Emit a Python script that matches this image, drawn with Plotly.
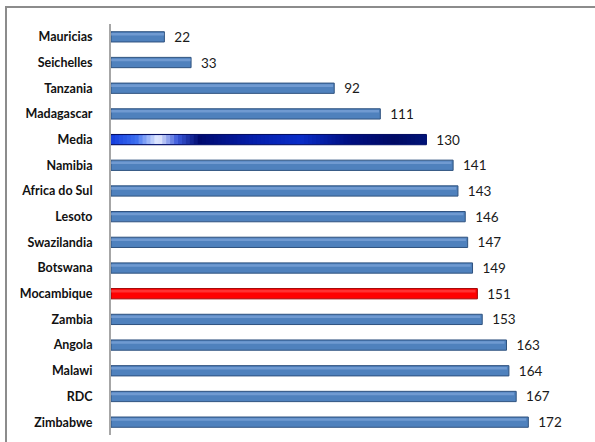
import plotly.graph_objects as go

categories = ["Mauricias", "Seichelles", "Tanzania", "Madagascar", "Media", "Namibia",
              "Africa do Sul", "Lesoto", "Swazilandia", "Botswana", "Mocambique",
              "Zambia", "Angola", "Malawi", "RDC", "Zimbabwe"]
values = [22, 33, 92, 111, 130, 141, 143, 146, 147, 149, 151, 153, 163, 164, 167, 172]
highlight_avg = "Media"
highlight_country = "Mocambique"

W, H = 595, 442
L, R, T, B = 111, 23, 24, 7
FONT = "Lato, Roboto, sans-serif"

colors, lines = [], []
for c in categories:
    if c == highlight_avg:
        colors.append("#0a2bb8"); lines.append("#000a5e")
    elif c == highlight_country:
        colors.append("#ff0000"); lines.append("#a00000")
    else:
        colors.append("#4f81bd"); lines.append("#2f527f")

fig = go.Figure()
fig.add_trace(go.Bar(
    y=categories, x=values, orientation="h", width=0.4,
    marker=dict(color=colors, line=dict(color=lines, width=1)),
    text=["\u00a0\u00a0" + str(v) for v in values], textposition="outside", constraintext="none",
    textfont=dict(family=FONT, size=13.5, color="#1a1a1a"),
    cliponaxis=False, hoverinfo="skip"))

# shine on bars (cylinder effect)
shine = []
for c in categories:
    if c == highlight_avg:
        shine.append("rgba(80,120,255,0.0)")
    elif c == highlight_country:
        shine.append("rgba(255,90,90,0.55)")
    else:
        shine.append("rgba(140,175,225,0.55)")
fig.add_trace(go.Bar(
    y=categories, x=[v * 0.995 for v in values], orientation="h", width=0.1, offset=-0.15,
    marker=dict(color=shine, line=dict(width=0)), hoverinfo="skip"))

# gradient for the average bar
stops = [(0.0, (20, 60, 220)), (0.08, (60, 110, 240)), (0.15, (235, 240, 255)),
         (0.21, (60, 90, 220)), (0.28, (0, 10, 110)), (0.45, (5, 30, 170)),
         (0.60, (10, 45, 200)), (0.75, (0, 15, 130)), (0.90, (0, 10, 100)), (1.0, (0, 20, 120))]
def interp(t):
    for (t0, c0), (t1, c1) in zip(stops[:-1], stops[1:]):
        if t0 <= t <= t1:
            f = (t - t0) / (t1 - t0) if t1 > t0 else 0
            return "rgb(%d,%d,%d)" % tuple(round(a + (b - a) * f) for a, b in zip(c0, c1))
    return "rgb(0,20,120)"
avg = values[categories.index(highlight_avg)]
N = 80
seg = avg / N
fig.add_trace(go.Bar(
    y=[highlight_avg] * N, x=[min(seg * 2, avg - seg * i) for i in range(N)],
    base=[seg * i for i in range(N)],
    orientation="h", width=0.34,
    marker=dict(color=[interp((i + 0.5) / N) for i in range(N)], line=dict(width=0)),
    hoverinfo="skip"))

fig.update_layout(
    width=W, height=H, margin=dict(l=L, r=R, t=T, b=B),
    barmode="overlay", showlegend=False,
    plot_bgcolor="white", paper_bgcolor="white",
    xaxis=dict(range=[0, 190], visible=False),
    yaxis=dict(categoryorder="array", categoryarray=categories, autorange="reversed",
               showline=True, linecolor="#a6a6a6", linewidth=2, ticks="",
               ticklabelstandoff=14, showgrid=False,
               tickfont=dict(family=FONT, size=12.5, color="#111111", weight="bold")),
)

frame_js = """
document.body.style.margin='0px';
document.body.style.overflow='hidden';
var f=document.createElement('div');
f.style.cssText='position:absolute;left:5px;top:6px;width:640px;height:480px;border-left:2px solid #8c8c8c;border-top:2px solid #8c8c8c;pointer-events:none;z-index:10;';
document.body.appendChild(f);
"""
fig.write_html("out.html", config={"displayModeBar": False}, post_script=frame_js)
